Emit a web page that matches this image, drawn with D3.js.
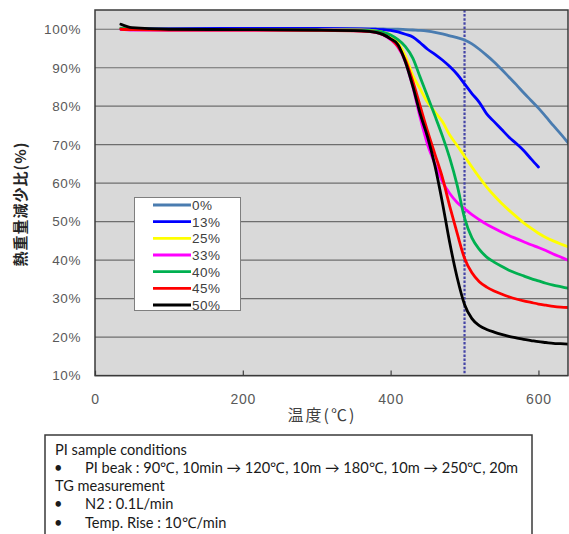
<!DOCTYPE html>
<html>
<head>
<meta charset="utf-8">
<script src="https://cdn.jsdelivr.net/npm/d3@7"></script>
<style>
  body { margin: 0; background: #fff; }
  svg { display: block; }
</style>
</head>
<body>
<div id="chart"></div>
<script>
// TG curves: weight retention (%) vs temperature (°C)

const temps = [35, 50, 100, 200, 300, 360, 380, 390, 400, 410, 420, 430, 440, 450, 460, 470, 480, 490,
  500, 510, 520, 530, 540, 550, 560, 570, 580, 590, 600, 610, 620, 630, 640];

const s0 = [100.3, 100.2, 100.1, 100.2, 100.2, 100.1, 100.1, 100.1, 100.0, 100.0, 99.9, 99.8, 99.7, 99.5, 99.2, 98.8, 98.3, 97.8,
  97.2, 96.2, 94.8, 93.2, 91.5, 89.6, 87.6, 85.6, 83.5, 81.5, 79.5, 77.3, 75.0, 72.8, 70.5];
const s13 = [100.0, 100.0, 100.1, 100.2, 100.2, 100.1, 100.0, 99.9, 99.7, 99.3, 98.7, 98.0, 96.5, 94.8, 93.5, 92.0, 90.3, 88.3,
  85.8, 83.3, 81.0, 78.0, 76.0, 74.0, 72.0, 70.3, 68.5, 66.3, 64.2, null, null, null, null];
const s25 = [100.2, 100.0, 99.9, 99.9, 99.9, 99.8, 99.6, 99.2, 98.5, 96.5, 93.0, 88.0, 84.5, 81.0, 78.5, 76.0, 72.5, 69.8,
  67.0, 64.2, 61.5, 59.0, 56.8, 54.8, 53.0, 51.3, 49.7, 48.3, 47.0, 45.9, 45.0, 44.2, 43.5];
const s33 = [100.0, 99.8, 99.8, 99.8, 99.8, 99.6, 99.2, 98.5, 97.3, 95.3, 91.5, 85.0, 77.0, 70.0, 65.0, 60.5, 57.3, 55.0,
  53.4, 51.8, 50.5, 49.3, 48.3, 47.3, 46.4, 45.6, 44.8, 44.0, 43.3, 42.5, 41.6, 40.8, 40.0];
const s40 = [100.2, 100.0, 99.9, 99.9, 99.8, 99.7, 99.5, 99.2, 98.5, 97.3, 95.5, 92.5, 87.5, 82.5, 77.5, 72.3, 66.5, 59.5,
  51.0, 45.8, 42.8, 40.8, 39.5, 38.4, 37.4, 36.6, 35.9, 35.2, 34.6, 34.0, 33.5, 33.1, 32.7];
const s45 = [100.0, 99.9, 99.8, 99.8, 99.7, 99.5, 99.2, 98.6, 97.5, 95.5, 92.0, 86.5, 80.0, 73.5, 67.5, 61.5, 54.0, 47.0,
  40.5, 36.7, 34.4, 33.0, 32.0, 31.2, 30.5, 29.9, 29.4, 29.0, 28.6, 28.3, 28.0, 27.8, 27.7];
const s50 = [101.3, 100.4, 100.0, 99.9, 99.8, 99.6, 99.2, 98.6, 97.5, 96.0, 91.5, 85.2, 78.0, 72.0, 64.5, 55.0, 44.5, 35.5,
  28.5, 24.8, 23.0, 22.0, 21.3, 20.7, 20.2, 19.8, 19.4, 19.1, 18.8, 18.6, 18.4, 18.3, 18.2];

const seriesNames = ['0%', '13%', '25%', '33%', '40%', '45%', '50%'];
const seriesValues = [s0, s13, s25, s33, s40, s45, s50];
const seriesColors = ['#4a7cb0', '#0000ff', '#ffff00', '#ff00ff', '#00b050', '#ff0000', '#000000'];

const yTicks = [10, 20, 30, 40, 50, 60, 70, 80, 90, 100];
const xTicks = [0, 200, 400, 600];
const markTemp = 500;

const noteLines = [
  { bullet: false, text: 'PI sample conditions' },
  { bullet: true, text: 'PI beak : 90℃, 10min → 120℃, 10m → 180℃, 10m → 250℃, 20m' },
  { bullet: false, text: 'TG measurement' },
  { bullet: true, text: 'N2 : 0.1L/min' },
  { bullet: true, text: 'Temp. Rise : 10℃/min' }
];

const width = 569;
const height = 534;
const plot = { left: 95, right: 568, top: 10, bottom: 375.6 };

const svg = d3.select('#chart').append('svg')
  .attr('width', width)
  .attr('height', height);

const x = d3.scaleLinear().domain([0, 640]).range([plot.left, plot.right]);
const y = d3.scaleLinear().domain([10, 105]).range([plot.bottom, plot.top]);

// plot background
svg.append('rect')
  .attr('x', plot.left).attr('y', plot.top)
  .attr('width', plot.right - plot.left).attr('height', plot.bottom - plot.top)
  .attr('fill', '#d9d9d9');

// horizontal gridlines
svg.append('g')
  .selectAll('line')
  .data(yTicks)
  .enter().append('line')
  .attr('x1', plot.left).attr('x2', plot.right)
  .attr('y1', d => y(d)).attr('y2', d => y(d))
  .attr('stroke', '#6e6e6e')
  .attr('stroke-width', 1.2);

// y tick labels
svg.append('g')
  .attr('transform', `translate(${plot.left},0)`)
  .call(d3.axisLeft(y).tickValues(yTicks).tickSize(0).tickPadding(14).tickFormat(d => d + '%'))
  .call(g => g.select('.domain').remove())
  .selectAll('text')
  .attr('fill', '#595959')
  .style('font-family', 'Liberation Sans, Arial, sans-serif')
  .style('font-size', '13.5px')
  .style('letter-spacing', '0.6px');

// x axis: inner ticks + labels
svg.append('g')
  .attr('transform', `translate(0,${plot.bottom})`)
  .call(d3.axisBottom(x).tickValues(xTicks).tickSizeInner(-5).tickSizeOuter(0).tickPadding(18))
  .call(g => g.select('.domain').remove())
  .call(g => g.selectAll('.tick line').attr('stroke', '#404040').attr('stroke-width', 1.2))
  .selectAll('text')
  .attr('fill', '#595959')
  .style('font-family', 'Liberation Sans, Arial, sans-serif')
  .style('font-size', '14px')
  .style('letter-spacing', '0.8px');

// clip for curves
svg.append('clipPath').attr('id', 'plot-clip')
  .append('rect')
  .attr('x', plot.left).attr('y', plot.top)
  .attr('width', plot.right - plot.left).attr('height', plot.bottom - plot.top);

// dotted marker at 500 °C
svg.append('line')
  .attr('x1', x(markTemp)).attr('x2', x(markTemp))
  .attr('y1', plot.top).attr('y2', plot.bottom)
  .attr('stroke', '#4444a6')
  .attr('stroke-width', 2.2)
  .attr('stroke-dasharray', '2.5,1.6');

const series = seriesNames.map((name, i) => ({
  name,
  color: seriesColors[i],
  values: temps.map((t, j) => ({ t, v: seriesValues[i][j] }))
}));

const line = d3.line()
  .defined(d => d.v != null)
  .x(d => x(d.t))
  .y(d => y(d.v))
  .curve(d3.curveMonotoneX);

svg.append('g')
  .attr('clip-path', 'url(#plot-clip)')
  .selectAll('path')
  .data(series)
  .enter().append('path')
  .attr('d', d => line(d.values))
  .attr('fill', 'none')
  .attr('stroke', d => d.color)
  .attr('stroke-width', 2.8)
  .attr('stroke-linejoin', 'round')
  .attr('stroke-linecap', 'round');

// plot frame
svg.append('rect')
  .attr('x', plot.left).attr('y', plot.top)
  .attr('width', plot.right - plot.left).attr('height', plot.bottom - plot.top)
  .attr('fill', 'none')
  .attr('stroke', '#3a3a3a')
  .attr('stroke-width', 1.5);

// legend
const legY = d3.scalePoint().domain(seriesNames).range([205, 305]);
const legend = svg.append('g');
legend.append('rect')
  .attr('x', 134.5).attr('y', 197.5)
  .attr('width', 106).attr('height', 113)
  .attr('fill', '#fff')
  .attr('stroke', '#7f7f7f')
  .attr('stroke-width', 1);

const legItems = legend.selectAll('g.item')
  .data(series)
  .enter().append('g')
  .attr('class', 'item')
  .attr('transform', d => `translate(0,${legY(d.name)})`);

legItems.append('line')
  .attr('x1', 153).attr('x2', 191)
  .attr('stroke', d => d.color)
  .attr('stroke-width', 2.8);

legItems.append('text')
  .attr('x', 192)
  .attr('dy', '0.36em')
  .attr('fill', '#404040')
  .style('font-family', 'Liberation Sans, Arial, sans-serif')
  .style('font-size', '13.5px')
  .style('letter-spacing', '0.5px')
  .text(d => d.name);

// axis titles
svg.append('text')
  .attr('x', 322)
  .attr('y', 415)
  .attr('dy', '0.35em')
  .attr('text-anchor', 'middle')
  .attr('fill', '#404040')
  .style('font-family', '"Noto Sans CJK JP", sans-serif')
  .style('font-size', '16px')
  .style('letter-spacing', '2px')
  .text('温度(℃)');

svg.append('text')
  .attr('transform', 'translate(21,204) rotate(-90)')
  .attr('dy', '0.35em')
  .attr('text-anchor', 'middle')
  .attr('fill', '#262626')
  .style('font-family', '"Noto Sans CJK JP", sans-serif')
  .style('font-size', '15px')
  .style('font-weight', 'bold')
  .style('letter-spacing', '1px')
  .text('熱重量減少比(%)');

// conditions note box
svg.append('rect')
  .attr('x', 45).attr('y', 435)
  .attr('width', 487).attr('height', 110)
  .attr('fill', '#fff')
  .attr('stroke', '#3a3a3a')
  .attr('stroke-width', 1.5);

const noteY = d3.scalePoint().domain(d3.range(noteLines.length)).range([454.5, 527.5]);
const notes = svg.append('g')
  .style('font-family', 'Lato, "Open Sans", sans-serif')
  .style('font-size', '14.6px')
  .attr('fill', '#1a1a1a');

notes.selectAll('text.bullet')
  .data(noteLines.map((d, i) => ({ ...d, i })).filter(d => d.bullet))
  .enter().append('text')
  .attr('class', 'bullet')
  .attr('x', 54)
  .attr('y', d => noteY(d.i))
  .text('•');

notes.selectAll('text.line')
  .data(noteLines.map((d, i) => ({ ...d, i })))
  .enter().append('text')
  .attr('class', 'line')
  .attr('x', d => d.bullet ? 85 : 55)
  .attr('y', d => noteY(d.i))
  .text(d => d.text);
</script>
</body>
</html>
